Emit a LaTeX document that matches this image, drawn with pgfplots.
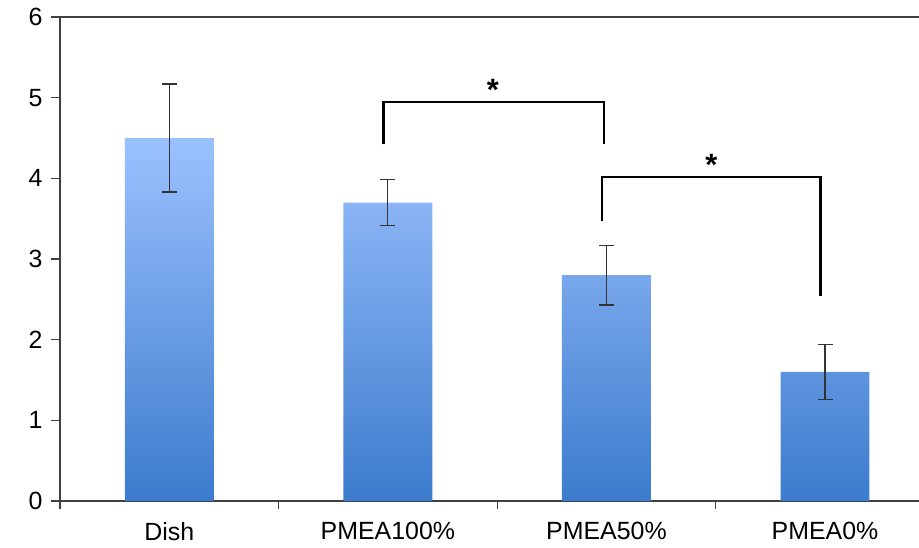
\documentclass[border=0pt]{standalone}
\usepackage{pgfplots}
\pgfplotsset{compat=1.18}
\usepackage{fontspec}
\setmainfont{Liberation Sans}
\definecolor{bartop}{HTML}{9BC1FF}
\definecolor{barbot}{HTML}{3C7BCC}
\definecolor{axisgray}{HTML}{404040}
\begin{document}
\begin{tikzpicture}
\begin{axis}[
  name=ax,
  scale only axis,
  width=859bp, height=484bp,
  xmin=-0.5, xmax=3.43,
  ymin=0, ymax=6,
  axis x line*=bottom, axis y line*=left,
  axis line style={axisgray, line width=1.4bp},
  ytick={0,1,2,3,4,5,6},
  xtick={0,1,2,3},
  xticklabels={Dish,PMEA100\%,PMEA50\%,PMEA0\%},
  major x tick style={draw=none},
  minor xtick={-0.5,0.5,1.5,2.5},
  tick align=outside,
  major tick length=9bp, minor tick length=8bp,
  tick style={axisgray, line width=1.2bp},
  ticklabel style={font=\fontsize{25}{29}\selectfont},
  /pgf/number format/assume math mode=true,
  yticklabel style={xshift=-5bp},
  xticklabel style={yshift=-9bp},
  clip=false,
]
\addplot[ybar, bar width=0.407, draw=none, top color=bartop, bottom color=barbot,
  error bars/.cd, y dir=both, y explicit,
  error bar style={color=black!80, line width=1.1bp},
  error mark options={rotate=90, mark size=7.5bp, line width=1.1bp, color=black!80}]
  coordinates {
    (0,4.50) +- (0,0.67)
    (1,3.70) +- (0,0.28)
    (2,2.80) +- (0,0.37)
    (3,1.60) +- (0,0.34)
  };
\addplot[black, line width=2.4bp, sharp plot, mark=none] coordinates {(0.98,4.42) (0.98,4.95) (1.99,4.95) (1.99,4.42)};
\addplot[black, line width=2.4bp, sharp plot, mark=none] coordinates {(1.98,3.47) (1.98,4.02) (2.98,4.02) (2.98,2.54)};
\draw[axisgray, line width=1.4bp] (rel axis cs:0,1) -- (rel axis cs:1,1);
\node[font=\bfseries\fontsize{31}{31}\selectfont] at (axis cs:1.48,5.10) {*};
\node[font=\bfseries\fontsize{31}{31}\selectfont] at (axis cs:2.48,4.17) {*};
\end{axis}
\pgfresetboundingbox
\path (ax.south west) ++(-60bp,-47bp) rectangle ++(919bp,548bp);
\end{tikzpicture}
\end{document}
